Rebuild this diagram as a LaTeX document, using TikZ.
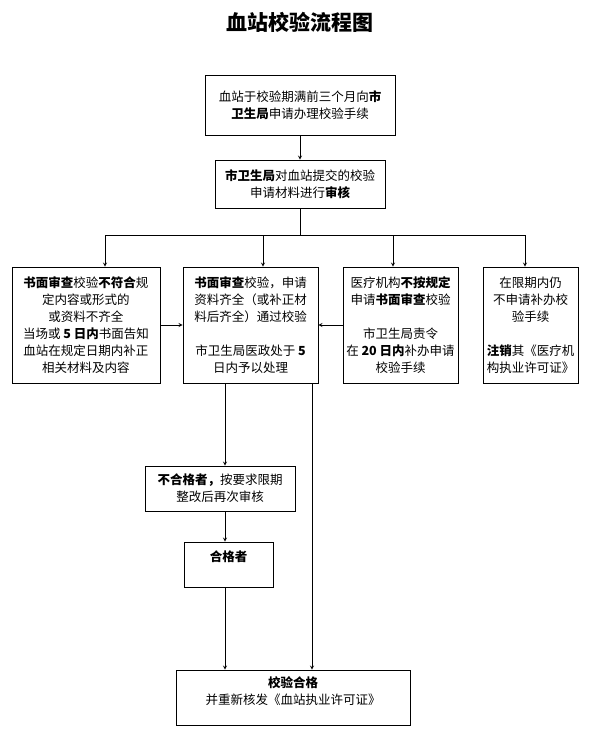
\documentclass[tikz,border=0pt]{standalone}
\usepackage{fontspec}
\setmainfont{Noto Sans CJK SC}
\usetikzlibrary{arrows,calc,positioning}

\begin{document}
\begin{tikzpicture}[x=1pt,y=-1pt,>=stealth,
	box/.style={draw, thick, align=center, inner sep=2pt, font=\fontsize{12.5}{17}\selectfont},
	line/.style={thick}]
	\useasboundingbox (0,0) rectangle (600,732);
	\node[font=\fontsize{21}{24}\selectfont\bfseries] (title) at (300,22) {血站校验流程图};

	\node[box, minimum width=190, minimum height=60] (apply) at (300,105) {血站于校验期满前三个月向\textbf{市}\\\textbf{卫生局}申请办理校验手续};
	\node[box, minimum width=170, minimum height=48] (check) at (300,184) {\textbf{市卫生局}对血站提交的校验\\申请材料进行\textbf{审核}};

	\node[box, minimum width=148, minimum height=116] (fail) at (86,325) {\textbf{书面审查}校验\textbf{不符合}规\\定内容或形式的\\或资料不齐全\\当场或 \textbf{5 日内}书面告知\\血站在规定日期内补正\\相关材料及内容};
	\node[box, minimum width=135, minimum height=116] (pass) at (250.5,325) {\textbf{书面审查}校验，申请\\资料齐全（或补正材\\料后齐全）通过校验\\[17pt]市卫生局医政处于 \textbf{5}\\日内予以处理};
	\node[box, minimum width=115, minimum height=116] (late) at (400.5,325) {医疗机构\textbf{不按规定}\\申请\textbf{书面审查}校验\\[17pt]市卫生局责令\\在 \textbf{20 日内}补办申请\\校验手续};
	\node[box, minimum width=95, minimum height=116] (cancel) at (530.5,325) {在限期内仍\\不申请补办校\\验手续\\[17pt]\textbf{注销}其《医疗机\\构执业许可证》};

	\node[box, minimum width=150, minimum height=45] (retry) at (220,488.5) {\textbf{不合格者，}按要求限期\\整改后再次审核};
	\node[box, minimum width=89, minimum height=45] (ok) at (228.5,564.5) {\textbf{合格者}\\\mbox{}};
	\node[box, minimum width=234, minimum height=55] (done) at (293,697.5) {\textbf{校验合格}\\并重新核发《血站执业许可证》\\[-4pt]\mbox{}};

	% branch points
	\coordinate (split) at (300,235);
	\coordinate (b1) at (105,235);
	\coordinate (b2) at (263,235);
	\coordinate (b3) at (393,235);
	\coordinate (b4) at (525,235);
	\coordinate (d1) at (225,0);
	\coordinate (d2) at (312,0);

	\draw[line,->] (apply) -- (check);
	\draw[line] (check) -- (split);
	\draw[line] (b1) -- (b4);
	\foreach \b/\n in {b1/fail, b2/pass, b3/late, b4/cancel}
		\draw[line,->] (\b) -- (\b |- \n.north);
	\draw[line,->] (fail.east) -- (fail.east -| pass.west);
	\draw[line,->] (late.west) -- (late.west -| pass.east);
	\draw[line,->] (d1 |- pass.south) -- (d1 |- retry.north);
	\draw[line,->] (d1 |- retry.south) -- (d1 |- ok.north);
	\draw[line,->] (d1 |- ok.south) -- (d1 |- done.north);
	\draw[line,->] (d2 |- pass.south) -- (d2 |- done.north);
\end{tikzpicture}
\end{document}
